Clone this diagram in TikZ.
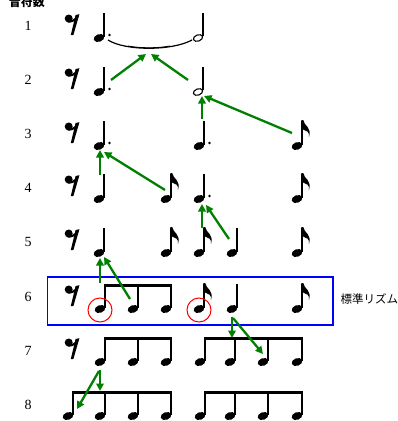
\documentclass[tikz,border=0pt]{standalone}
\usepackage{fontspec}
\setmainfont{Liberation Serif}
\newfontfamily\cjk{Noto Sans CJK JP}
\usetikzlibrary{arrows.meta}
\definecolor{arrgreen}{HTML}{008000}
\tikzset{
  stemline/.style={line width=1.3},
  quarter/.pic={\fill[rotate=20] (0,0) ellipse [x radius=5.5,y radius=3.8];
                \draw[stemline] (5.1,-1) -- (5.1,-25);},
  dquarter/.pic={\fill[rotate=20] (0,0) ellipse [x radius=5.5,y radius=3.8];
                \draw[stemline] (5.1,-1) -- (5.1,-25);
                \fill (10.5,-3) circle [radius=1.4];},
  halfnote/.pic={\draw[line width=1.1,rotate=20] (0,0) ellipse [x radius=4.8,y radius=3.1];
                \draw[stemline] (5,-2) -- (5,-25);},
  eighth/.pic={\fill[rotate=20] (0,0) ellipse [x radius=5.5,y radius=3.8];
                \draw[stemline] (5.1,-1) -- (5.1,-25);
                \fill (4.4,-26) -- (6.2,-26) .. controls (7,-20) and (15,-19) .. (12,-9)
                      .. controls (12.8,-14.5) and (9,-15.5) .. (6,-16.5) -- (4.4,-16.5) -- cycle;},
  bnote/.pic={\fill[rotate=20] (0,0) ellipse [x radius=5.5,y radius=3.8];
                \draw[stemline] (5.1,-1) -- (5.1,-24);},
  erest/.pic={\fill (-3.3,-19.5) circle [radius=4];
              \draw[line width=2] (-5,-17) .. controls (-2,-15) and (3,-17.5) .. (6,-22);
              \fill (3.6,-23) -- (7.4,-23.8) -- (1.4,-3) -- (-1.2,-3) -- cycle;},
  beam/.style={line width=3},
  garrow/.style={draw=arrgreen, line width=2.3, -{Triangle[length=7.5pt,width=7.5pt]}},
  rownum/.style={font=\fontsize{14}{14}\selectfont},
  hilite/.style={draw=red, line width=1},
}
\begin{document}
\begin{tikzpicture}[x=1pt,y=-1pt]
\useasboundingbox (0,0) rectangle (398,421);
\clip (0,0) rectangle (398,421);
\fill[white] (0,0) rectangle (398,421);

% heading
\node[font=\cjk\bfseries\fontsize{12}{12}\selectfont] (hdr) at (27,1.5) {音符数};

% row numbers
\node[rownum] (n1) at (28,26) {1};
\node[rownum] (n2) at (28,80) {2};
\node[rownum] (n3) at (28,134) {3};
\node[rownum] (n4) at (28,188) {4};
\node[rownum] (n5) at (28,242) {5};
\node[rownum] (n6) at (28,297) {6};
\node[rownum] (n7) at (28,351) {7};
\node[rownum] (n8) at (28,405) {8};

% rests
\foreach \y in {38,92,146,199,253,309,362} \pic at (72,\y) {erest};

% row 1
\pic at (99,38) {dquarter};
\pic at (198,38) {halfnote};
\draw[line width=1.2] (108,40) .. controls (125,51) and (172,51) .. (192,40);
\draw[line width=0.8] (128,46) .. controls (140,48.3) and (158,48.3) .. (170,46);

% row 2
\pic at (99,92) {dquarter};
\pic at (198,92) {halfnote};

% row 3
\pic at (99,146) {dquarter};
\pic at (199,146) {dquarter};
\pic at (297,146) {eighth};

% row 4
\pic at (99,199) {quarter};
\pic at (166,199) {eighth};
\pic at (199,199) {dquarter};
\pic at (297,199) {eighth};

% row 5
\pic at (99,253) {quarter};
\pic at (166,253) {eighth};
\pic at (199,253) {eighth};
\pic at (232,253) {quarter};
\pic at (297,253) {eighth};

% row 6
\draw[blue, line width=1.2] (47.5,277) rectangle (333,325);
\node[font=\cjk\fontsize{11.5}{11.5}\selectfont, anchor=west] (lbl) at (337,299) {標準リズム};
\foreach \x in {100,133,166} \pic at (\x,309) {bnote};
\draw[beam] (104.45,285.5) -- (171.75,285.5);
\pic at (199,309) {eighth};
\pic at (232,309) {quarter};
\pic at (297,309) {eighth};
\draw[hilite] (100,310) circle [radius=12];
\draw[hilite] (199,310) circle [radius=12];

% row 7
\foreach \x in {100,133,166} \pic at (\x,362) {bnote};
\draw[beam] (104.45,338.5) -- (171.75,338.5);
\foreach \x in {200,230,263,297} \pic at (\x,362) {bnote};
\draw[beam] (204.45,338.5) -- (302.75,338.5);

% row 8
\foreach \x in {68,100,133,166} \pic at (\x,416) {bnote};
\draw[beam] (72.45,392.5) -- (171.75,392.5);
\foreach \x in {200,230,263,297} \pic at (\x,416) {bnote};
\draw[beam] (204.45,392.5) -- (302.75,392.5);

% arrow end points
\coordinate (a1s) at (111,80);  \coordinate (a1e) at (146,54);
\coordinate (a2s) at (188,80);  \coordinate (a2e) at (151,54);
\coordinate (a3s) at (292,133); \coordinate (a3e) at (204,96);
\coordinate (a4s) at (202,119); \coordinate (a4e) at (202,96);
\coordinate (a5s) at (100,175); \coordinate (a5e) at (100,150);
\coordinate (a6s) at (165,190); \coordinate (a6e) at (104,152);
\coordinate (a7s) at (202,228); \coordinate (a7e) at (202,204);
\coordinate (a8s) at (229,239); \coordinate (a8e) at (206,205);
\coordinate (a9s) at (100,283); \coordinate (a9e) at (100,258);
\coordinate (a10s) at (130,299); \coordinate (a10e) at (104,257);
\coordinate (a11s) at (232,317); \coordinate (a11e) at (232,338);
\coordinate (a12s) at (233,318); \coordinate (a12e) at (263,354);
\coordinate (a13s) at (100,370); \coordinate (a13e) at (100,391);
\coordinate (a14s) at (99,371); \coordinate (a14e) at (77,409);

\foreach \i in {1,...,14} \draw[garrow] (a\i s) -- (a\i e);
\end{tikzpicture}
\end{document}
